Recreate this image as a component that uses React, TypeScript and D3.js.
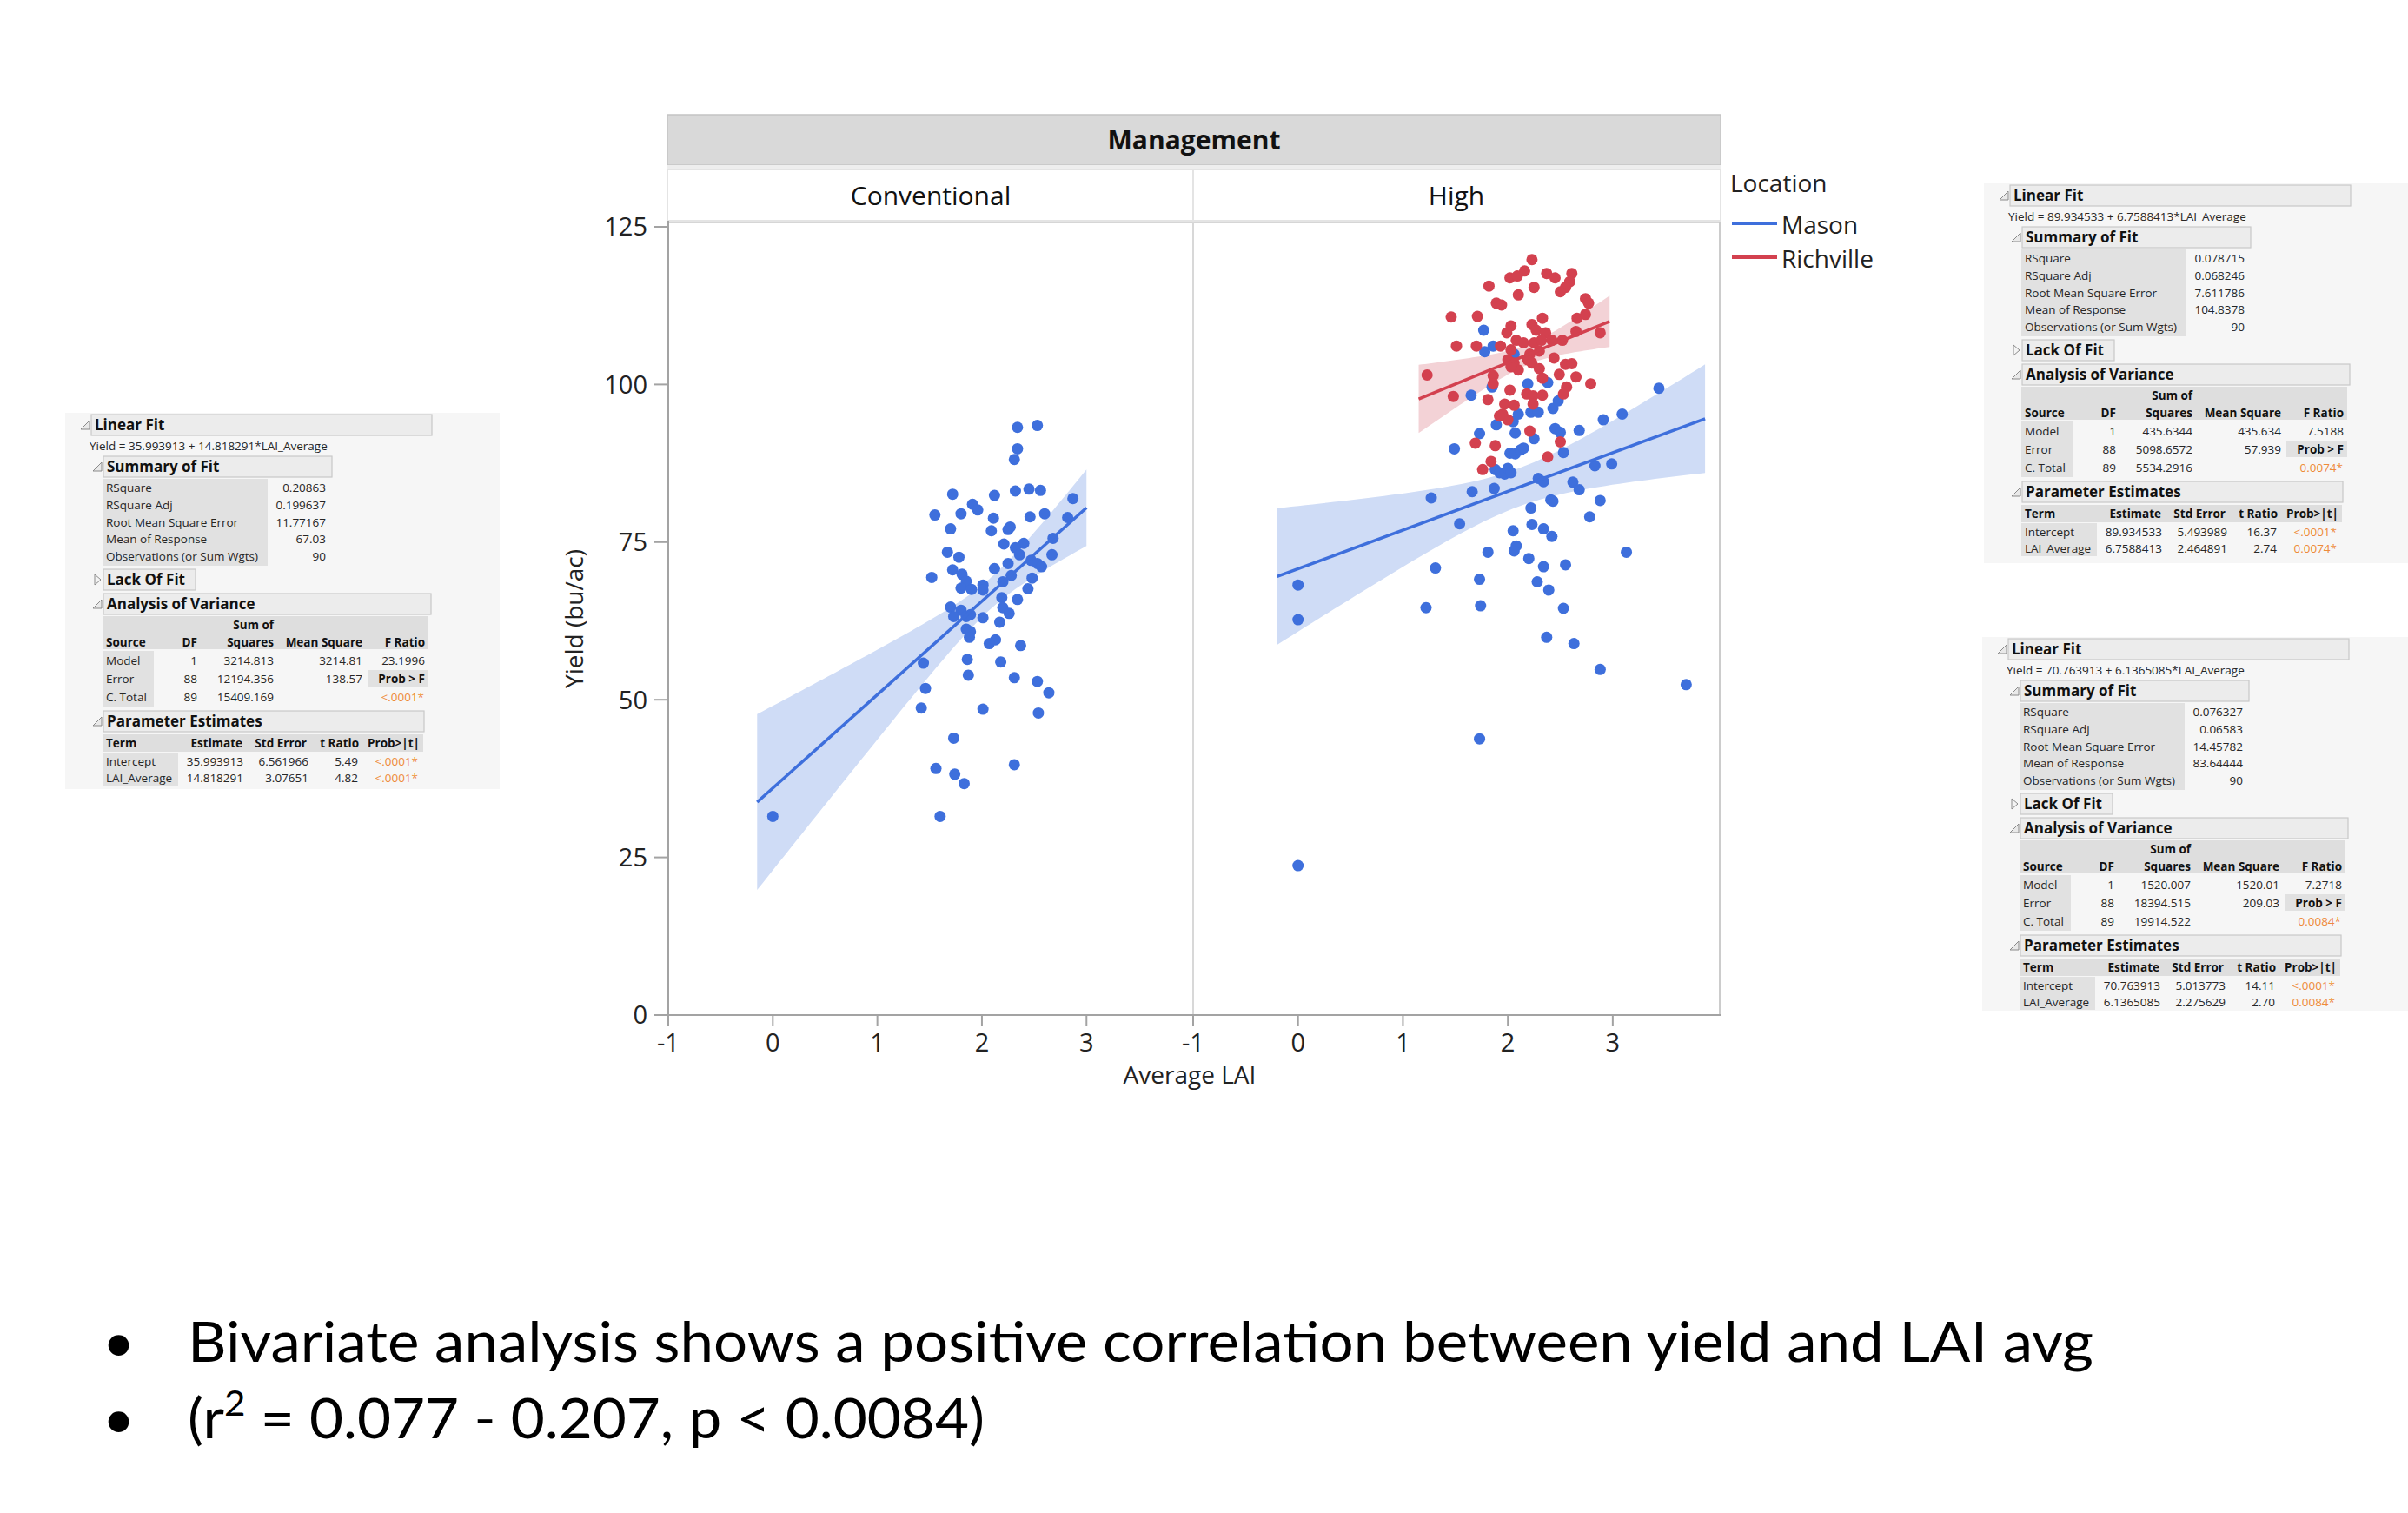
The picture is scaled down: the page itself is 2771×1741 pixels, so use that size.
import React from "react";
import * as d3 from "d3";

const W = 2771, H = 1741;

// ---- Conventional panel, Mason ----
const convLai = [2.34, 2.53, 2.34, 2.31, 2.32, 2.45, 2.56, 1.72, 2.12, 2.87, 1.91, 1.96, 1.55, 1.80, 2.11, 2.46, 2.60, 2.82,
  1.70, 2.09, 2.25, 2.27, 2.68, 2.21, 2.40, 2.32, 1.67, 1.78, 2.36, 2.67, 2.25, 2.47, 2.53, 2.57, 1.72, 2.12, 1.81, 1.52,
  2.28, 2.48, 1.85, 2.01, 2.20, 1.80, 1.90, 2.01, 2.44, 2.19, 2.34, 1.70, 1.80, 2.20, 1.73, 1.85, 1.89, 2.01, 2.26, 2.17,
  1.85, 1.89, 1.88, 2.13, 2.07, 2.37, 1.86, 1.44, 2.18, 1.87, 2.31, 2.53, 1.46, 2.64, 1.42, 2.01, 2.54, 1.73, 1.56, 1.74,
  1.83, 2.31, 0.0, 1.60];
const convYield = [93.2, 93.5, 89.8, 88.1, 83.1, 83.4, 83.2, 82.6, 82.4, 81.9, 81.0, 80.1, 79.3, 79.5, 78.8, 79.0, 79.5, 78.9,
  77.1, 76.8, 77.0, 77.4, 75.6, 74.7, 74.8, 74.1, 73.4, 72.6, 73.0, 73.0, 71.6, 72.1, 71.6, 71.1, 70.6, 70.8, 69.9, 69.4,
  69.7, 69.3, 68.8, 68.2, 68.7, 67.7, 67.5, 67.4, 67.6, 66.2, 65.9, 64.7, 64.2, 64.6, 63.2, 63.2, 63.5, 63.0, 63.7, 62.3,
  61.2, 60.8, 59.9, 59.5, 58.9, 58.6, 56.4, 55.8, 56.0, 53.9, 53.5, 52.9, 51.8, 51.1, 48.7, 48.5, 47.9, 43.9, 39.1, 38.2,
  36.7, 39.7, 31.5, 31.5];

// ---- High panel, Mason ----
const highMasonLai = [0, 0, 0, 1.27, 1.22, 1.31, 1.49, 1.54, 1.65, 1.66, 1.73, 1.74, 1.73, 1.73, 1.77, 1.78, 1.81, 1.86, 1.85,
  1.89, 1.87, 1.88, 1.92, 1.97, 2.0, 2.03, 2.02, 2.07, 2.05, 2.07, 2.05, 2.08, 2.06, 2.06, 2.10, 2.12, 2.15, 2.19, 2.20,
  2.22, 2.23, 2.22, 2.25, 2.28, 2.29, 2.29, 2.34, 2.34, 2.34, 2.39, 2.37, 2.38, 2.41, 2.43, 2.42, 2.43, 2.48, 2.45, 2.50,
  2.53, 2.55, 2.53, 2.62, 2.68, 2.63, 2.68, 2.78, 2.83, 2.88, 2.91, 2.88, 2.99, 3.09, 3.13, 3.44, 3.70];
const highMasonYield = [68.2, 62.7, 23.7, 82.0, 64.6, 70.9, 89.8, 77.9, 98.3, 83.0, 69.1, 64.9, 43.8, 92.2, 108.6, 105.2, 73.4,
  106.1, 99.6, 93.6, 83.5, 86.5, 86.0, 85.8, 86.7, 86.0, 89.1, 89.0, 94.1, 92.3, 76.8, 74.4, 73.6, 104.8, 95.3, 89.6, 89.9,
  100.1, 72.4, 80.4, 77.8, 95.6, 91.4, 68.7, 95.6, 85.1, 84.6, 77.1, 71.1, 67.4, 59.9, 100.3, 81.7, 81.5, 75.9, 96.2, 97.4,
  93.0, 92.4, 89.2, 71.4, 64.5, 84.5, 83.3, 58.9, 92.7, 79.0, 87.1, 81.6, 94.4, 54.8, 87.4, 95.3, 73.4, 99.4, 52.4];

// ---- High panel, Richville ----
const highRichLai = [2.23, 2.02, 2.09, 2.16, 2.37, 2.45, 2.61, 2.59, 2.55, 2.50, 1.82, 2.25, 2.10, 1.89, 1.94, 2.74, 2.77, 1.46,
  1.71, 2.33, 2.66, 2.74, 2.03, 2.23, 2.27, 1.99, 2.36, 2.65, 2.88, 2.08, 2.15, 2.25, 2.32, 2.42, 2.52, 1.51, 1.70, 1.93,
  2.03, 2.21, 2.30, 2.00, 2.06, 2.19, 2.23, 2.44, 2.30, 2.55, 2.61, 2.10, 2.03, 1.23, 1.86, 2.49, 2.65, 2.33, 1.86, 2.79,
  2.56, 2.02, 2.18, 2.24, 2.33, 2.53, 1.48, 1.81, 1.97, 2.06, 2.24, 1.95, 2.00, 1.92, 2.21, 1.69, 1.88, 2.50, 2.38, 1.84,
  1.76];
const highRichYield = [119.8, 116.9, 117.2, 118.0, 117.6, 116.9, 117.6, 116.3, 115.4, 114.7, 115.6, 115.4, 114.2, 112.9, 112.6,
  113.6, 112.9, 110.7, 110.8, 110.5, 110.5, 111.1, 109.3, 109.5, 108.6, 108.2, 108.2, 108.4, 108.2, 107.0, 106.6, 106.6,
  107.0, 107.0, 107.0, 106.1, 106.1, 106.1, 105.5, 104.8, 105.3, 103.9, 103.4, 103.9, 103.4, 104.2, 102.5, 103.2, 103.3,
  102.3, 102.8, 101.5, 101.4, 101.6, 101.2, 101.0, 100.1, 100.1, 99.6, 99.1, 98.5, 98.2, 98.3, 98.5, 98.1, 97.6, 96.9,
  96.7, 96.9, 95.3, 94.4, 95.0, 92.6, 90.7, 90.3, 90.9, 88.5, 87.8, 86.5];

// ---- fits: 0 = Conventional Mason, 1 = High Richville, 2 = High Mason ----
const fitIntercept = [35.993913, 89.934533, 70.763913];
const fitSlope = [14.818291, 6.7588413, 6.1365085];
const fitRmse = [11.77167, 7.611786, 14.45782];
const fitSlopeSE = [3.07651, 2.464891, 2.275629];
const fitMeanY = [67.03, 104.8378, 83.64444];
const fitN = [90, 90, 90];
const fitXRange = [[-0.15, 3.0], [1.15, 2.97], [-0.2, 3.88]];
const tCrit = 1.987;

const xTicks = [-1, 0, 1, 2, 3];
const yTicks = [0, 25, 50, 75, 100, 125];
const panelNames = ["Conventional", "High"];
const locations = ["Mason", "Richville"];

// ---- report tables: 0 = left, 1 = top right, 2 = bottom right ----
const tblEquation = ["Yield = 35.993913 + 14.818291*LAI_Average", "Yield = 89.934533 + 6.7588413*LAI_Average", "Yield = 70.763913 + 6.1365085*LAI_Average"];
const summaryLabels = ["RSquare", "RSquare Adj", "Root Mean Square Error", "Mean of Response", "Observations (or Sum Wgts)"];
const tblSummary = [
  ["0.20863", "0.199637", "11.77167", "67.03", "90"],
  ["0.078715", "0.068246", "7.611786", "104.8378", "90"],
  ["0.076327", "0.06583", "14.45782", "83.64444", "90"]];
const anovaSources = ["Model", "Error", "C. Total"];
const anovaDF = ["1", "88", "89"];
const tblSS = [["3214.813", "12194.356", "15409.169"], ["435.6344", "5098.6572", "5534.2916"], ["1520.007", "18394.515", "19914.522"]];
const tblMS = [["3214.81", "138.57"], ["435.634", "57.939"], ["1520.01", "209.03"]];
const tblFRatio = ["23.1996", "7.5188", "7.2718"];
const tblProbF = ["<.0001*", "0.0074*", "0.0084*"];
const peTerms = ["Intercept", "LAI_Average"];
const tblEstimate = [["35.993913", "14.818291"], ["89.934533", "6.7588413"], ["70.763913", "6.1365085"]];
const tblStdErr = [["6.561966", "3.07651"], ["5.493989", "2.464891"], ["5.013773", "2.275629"]];
const tblTRatio = [["5.49", "4.82"], ["16.37", "2.74"], ["14.11", "2.70"]];
const tblProbT = [["<.0001*", "<.0001*"], ["<.0001*", "0.0074*"], ["<.0001*", "0.0084*"]];
const tblOrigin = [[105, 489], [2313, 225], [2311, 747]];
const tblBgRight = [575, 2771, 2771];
const tblBgBottom = [419, 423, 416];

const bullets = ["Bivariate analysis shows a positive correlation between yield and LAI avg"];

const BLUE = "#3e6fdc";
const RED = "#d3414f";
const ORANGE = "#ee8b3a";
const chartFont = "'Open Sans', sans-serif";

const plotLeft = 769, plotDiv = 1373, plotRight = 1979, plotTop = 256, plotBottom = 1168;
const xPanel = [
  d3.scaleLinear().domain([-1, 4.02]).range([plotLeft, plotDiv]),
  d3.scaleLinear().domain([-1, 4.02]).range([plotDiv, plotRight]),
];
const y = d3.scaleLinear().domain([0, 125]).range([plotBottom, 261]);

function fitLine(k: number, xs: d3.ScaleLinear<number, number>) {
  const b0 = fitIntercept[k], b1 = fitSlope[k];
  return d3.line<number>().x(v => xs(v)).y(v => y(b0 + b1 * v))(fitXRange[k]);
}

function fitBand(k: number, xs: d3.ScaleLinear<number, number>) {
  const b0 = fitIntercept[k], b1 = fitSlope[k];
  const xbar = (fitMeanY[k] - b0) / b1;
  const sxx = Math.pow(fitRmse[k] / fitSlopeSE[k], 2);
  const [x0, x1] = fitXRange[k];
  const se = (v: number) => tCrit * fitRmse[k] * Math.sqrt(1 / fitN[k] + (v - xbar) * (v - xbar) / sxx);
  const steps = d3.range(0, 61).map(j => x0 + (x1 - x0) * j / 60);
  return d3.area<number>()
    .x(v => xs(v))
    .y0(v => y(b0 + b1 * v - se(v)))
    .y1(v => y(b0 + b1 * v + se(v)))(steps);
}

function Dots({ lai, yld, xs, color }: { lai: number[], yld: number[], xs: d3.ScaleLinear<number, number>, color: string }) {
  return (
    <g fill={color}>
      {lai.map((v, i) => <circle key={i} cx={xs(v)} cy={y(yld[i])} r={6.5} />)}
    </g>
  );
}

function OpenIcon({ x, y: cy }: { x: number, y: number }) {
  return <path d={`M${x + 10},${cy - 5}L${x + 10},${cy + 5}L${x},${cy + 5}Z`} fill="#e9e9e9" stroke="#8a8a8a" strokeWidth={1} />;
}

function ClosedIcon({ x, y: cy }: { x: number, y: number }) {
  return <path d={`M${x},${cy - 6}L${x + 7},${cy}L${x},${cy + 6}Z`} fill="#f4f4f4" stroke="#8a8a8a" strokeWidth={1} />;
}

function Outline({ x, y: cy, w, label, closed }: { x: number, y: number, w: number, label: string, closed?: boolean }) {
  return (
    <g>
      {closed ? <ClosedIcon x={x - 10} y={cy} /> : <OpenIcon x={x - 12} y={cy} />}
      <rect x={x} y={cy - 12} width={w} height={24} fill="#ececec" stroke="#c9c9c9" strokeWidth={1.2} />
      <text x={x + 4} y={cy} dy="0.36em" fontWeight="bold" fontSize={17} fill="#111">{label}</text>
    </g>
  );
}

function StatTable({ i }: { i: number }) {
  const [ox, oy] = tblOrigin[i];
  const T = (x: number, yy: number, s: string, opts: any = {}) =>
    <text x={x} y={yy} dy="0.36em" fontSize={13.5} fill={opts.fill || "#262626"} fontWeight={opts.bold ? "bold" : "normal"}
      textAnchor={opts.end ? "end" : "start"}>{s}</text>;
  const rowY = [72, 92, 112, 131, 151];
  const aRowY = [271, 292, 313];
  const pRowY = [387, 406];
  return (
    <g transform={`translate(${ox},${oy})`} fontFamily={chartFont}>
      <rect x={-30} y={-14} width={tblBgRight[i] - ox + 30} height={tblBgBottom[i] + 14} fill="#f6f6f6" />
      <Outline x={0} y={0} w={392} label="Linear Fit" />
      {T(-2, 24, tblEquation[i])}
      <Outline x={14} y={48} w={263} label="Summary of Fit" />
      <rect x={13} y={62} width={190} height={100} fill="#e1e1e1" />
      {summaryLabels.map((s, j) => <g key={j}>{T(17, rowY[j], s)}{T(270, rowY[j], tblSummary[i][j], { end: true })}</g>)}
      <Outline x={14} y={178} w={106} label="Lack Of Fit" closed />
      <Outline x={14} y={206} w={377} label="Analysis of Variance" />
      <rect x={13} y={220} width={375} height={38} fill="#dedede" />
      {T(210, 230, "Sum of", { bold: true, end: true, fill: "#111" })}
      {T(17, 250, "Source", { bold: true, fill: "#111" })}
      {T(122, 250, "DF", { bold: true, end: true, fill: "#111" })}
      {T(210, 250, "Squares", { bold: true, end: true, fill: "#111" })}
      {T(312, 250, "Mean Square", { bold: true, end: true, fill: "#111" })}
      {T(384, 250, "F Ratio", { bold: true, end: true, fill: "#111" })}
      <rect x={13} y={260} width={59} height={64} fill="#e1e1e1" />
      <rect x={318} y={282} width={70} height={19} fill="#e1e1e1" />
      {anovaSources.map((s, j) => <g key={j}>
        {T(17, aRowY[j], s)}
        {T(122, aRowY[j], anovaDF[j], { end: true })}
        {T(210, aRowY[j], tblSS[i][j], { end: true })}
        {j < 2 ? T(312, aRowY[j], tblMS[i][j], { end: true }) : null}
      </g>)}
      {T(384, aRowY[0], tblFRatio[i], { end: true })}
      {T(384, aRowY[1], "Prob > F", { bold: true, end: true, fill: "#111" })}
      {T(383, aRowY[2], tblProbF[i], { end: true, fill: ORANGE })}
      <Outline x={14} y={341} w={369} label="Parameter Estimates" />
      <rect x={13} y={356} width={369} height={20} fill="#dedede" />
      {T(17, 366, "Term", { bold: true, fill: "#111" })}
      {T(174, 366, "Estimate", { bold: true, end: true, fill: "#111" })}
      {T(248, 366, "Std Error", { bold: true, end: true, fill: "#111" })}
      {T(308, 366, "t Ratio", { bold: true, end: true, fill: "#111" })}
      {T(378, 366, "Prob>|t|", { bold: true, end: true, fill: "#111" })}
      <rect x={13} y={377} width={87} height={38} fill="#e1e1e1" />
      {peTerms.map((s, j) => <g key={j}>
        {T(17, pRowY[j], s)}
        {T(175, pRowY[j], tblEstimate[i][j], { end: true })}
        {T(250, pRowY[j], tblStdErr[i][j], { end: true })}
        {T(307, pRowY[j], tblTRatio[i][j], { end: true })}
        {T(376, pRowY[j], tblProbT[i][j], { end: true, fill: ORANGE })}
      </g>)}
    </g>
  );
}

function Chart() {
  const [xc, xh] = xPanel;
  return (
    <g fontFamily={chartFont}>
      {/* header strips */}
      <rect x={768} y={132} width={1212} height={58} fill="#d9d9d9" stroke="#c4c4c4" strokeWidth={1.5} />
      <text x={(768 + 1980) / 2} y={161} dy="0.36em" textAnchor="middle" fontWeight="bold" fontSize={30} fill="#111">Management</text>
      <rect x={768} y={190} width={1212} height={5} fill="#eeeeee" />
      <rect x={768} y={195} width={1212} height={59} fill="#fff" stroke="#e4e4e4" strokeWidth={2} />
      <line x1={plotDiv} x2={plotDiv} y1={195} y2={254} stroke="#e4e4e4" strokeWidth={2} />
      {panelNames.map((p, i) => (
        <text key={p} x={i === 0 ? (plotLeft + plotDiv) / 2 : (plotDiv + plotRight) / 2} y={225} dy="0.36em"
          textAnchor="middle" fontSize={30} fill="#111">{p}</text>
      ))}
      <line x1={768} x2={1980} y1={plotTop} y2={plotTop} stroke="#c8c8c8" strokeWidth={1.5} />

      {/* bands and fits */}
      <path d={fitBand(0, xc) || ""} fill="#cfdcf6" />
      <path d={fitBand(2, xh) || ""} fill="#cfdcf6" />
      <path d={fitBand(1, xh) || ""} fill="#f3d2d6" />
      <Dots lai={convLai} yld={convYield} xs={xc} color={BLUE} />
      <Dots lai={highMasonLai} yld={highMasonYield} xs={xh} color={BLUE} />
      <Dots lai={highRichLai} yld={highRichYield} xs={xh} color={RED} />
      <path d={fitLine(0, xc) || ""} stroke={BLUE} strokeWidth={3.5} fill="none" />
      <path d={fitLine(2, xh) || ""} stroke={BLUE} strokeWidth={3.5} fill="none" />
      <path d={fitLine(1, xh) || ""} stroke={RED} strokeWidth={3.5} fill="none" />

      {/* frame */}
      <line x1={plotDiv} x2={plotDiv} y1={plotTop} y2={plotBottom} stroke="#d8d8d8" strokeWidth={2} />
      <line x1={plotRight} x2={plotRight} y1={plotTop} y2={plotBottom} stroke="#cccccc" strokeWidth={2} />
      <line x1={plotLeft} x2={plotLeft} y1={plotTop - 2} y2={plotBottom} stroke="#a3a3a3" strokeWidth={2} />
      <line x1={plotLeft} x2={plotRight + 1} y1={plotBottom} y2={plotBottom} stroke="#a3a3a3" strokeWidth={2} />

      {/* y axis */}
      {yTicks.map(t => (
        <g key={t}>
          <line x1={753} x2={plotLeft} y1={y(t)} y2={y(t)} stroke="#a3a3a3" strokeWidth={2} />
          <text x={745} y={y(t)} dy="0.36em" textAnchor="end" fontSize={29} fill="#222">{t}</text>
        </g>
      ))}
      <text transform={`translate(661,712) rotate(-90)`} textAnchor="middle" dy="0.36em" fontSize={28} fill="#222">Yield (bu/ac)</text>

      {/* x axes */}
      {xPanel.map((xs, i) => (
        <g key={i}>
          {xTicks.map(t => (
            <g key={t}>
              <line x1={xs(t)} x2={xs(t)} y1={plotBottom} y2={plotBottom + 13} stroke="#a3a3a3" strokeWidth={2} />
              <text x={xs(t)} y={1200} dy="0.36em" textAnchor="middle" fontSize={29} fill="#222">{t < 0 ? "-" + Math.abs(t) : t}</text>
            </g>
          ))}
        </g>
      ))}
      <text x={1369} y={1237} dy="0.36em" textAnchor="middle" fontSize={28} fill="#222">Average LAI</text>

      {/* legend */}
      <text x={1991} y={211} dy="0.36em" fontSize={28} fill="#222">Location</text>
      {locations.map((l, i) => (
        <g key={l}>
          <line x1={1993} x2={2045} y1={257 + i * 39} y2={257 + i * 39} stroke={i === 0 ? BLUE : RED} strokeWidth={4} />
          <text x={2050} y={259 + i * 39} dy="0.36em" fontSize={28} fill="#222">{l}</text>
        </g>
      ))}
    </g>
  );
}

export default function App() {
  return (
    <div style={{ position: "absolute", left: 0, top: 0 }}>
      <svg width={W} height={H} style={{ display: "block" }}>
        <rect width={W} height={H} fill="#fff" />
        <StatTable i={0} />
        <StatTable i={1} />
        <StatTable i={2} />
        <Chart />
        <g fontFamily="Lato, 'Open Sans', sans-serif" fill="#000">
          <text x={118} y={1567} fontSize={64}>•</text>
          <text x={216} y={1567} fontSize={64} textLength={2193} lengthAdjust="spacingAndGlyphs">{bullets[0]}</text>
          <text x={118} y={1655} fontSize={64}>•</text>
          <text x={216} y={1655} fontSize={64} textLength={917} lengthAdjust="spacingAndGlyphs">
            (r<tspan fontSize={40} dy={-26}>2</tspan><tspan dy={26}> = 0.077 - 0.207, p &lt; 0.0084)</tspan>
          </text>
        </g>
      </svg>
    </div>
  );
}
